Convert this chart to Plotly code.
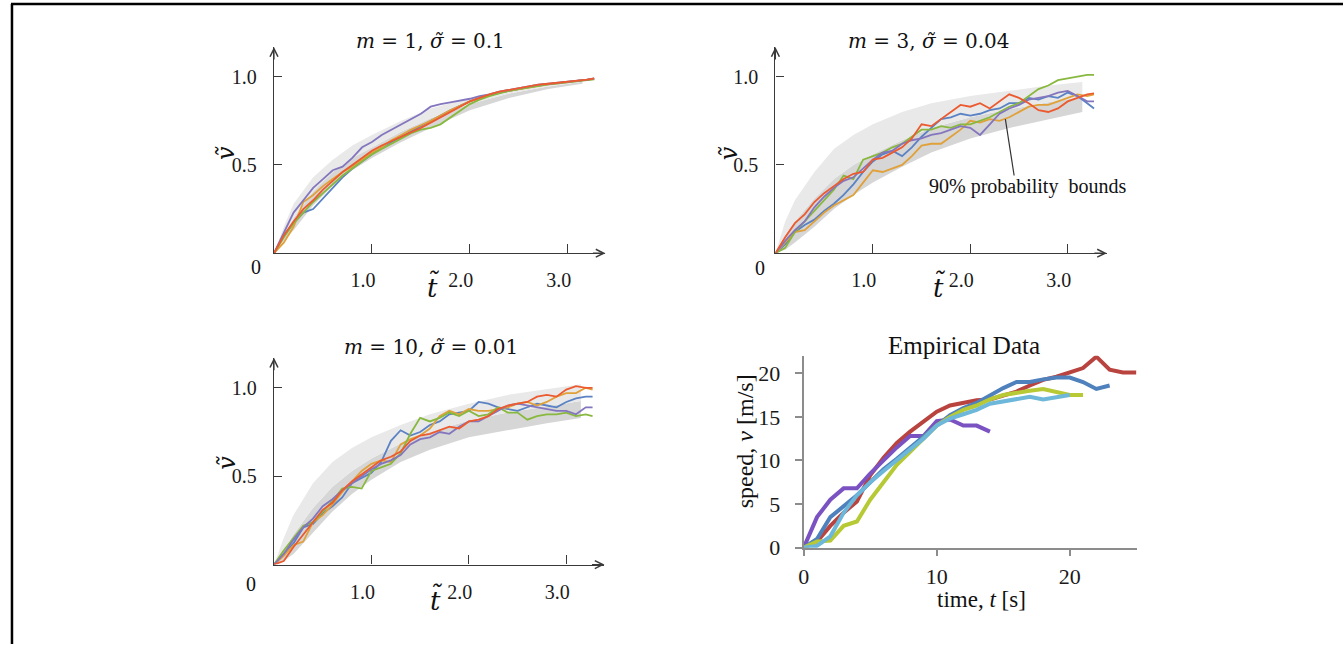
import plotly.graph_objects as go

W, H = 1343, 657

# ---------------- data ----------------
T_SIM = [0.0, 0.1, 0.2, 0.3, 0.4, 0.5, 0.6, 0.7, 0.8, 0.9, 1.0, 1.1, 1.2, 1.3, 1.4, 1.5, 1.6,
         1.7, 1.8, 1.9, 2.0, 2.1, 2.2, 2.3, 2.4, 2.5, 2.6, 2.7, 2.8, 2.9, 3.0, 3.1, 3.2, 3.27]
T_BAND = [0.0, 0.1, 0.2, 0.4, 0.6, 0.8, 1.0, 1.3, 1.6, 2.0, 2.4, 2.8, 3.15]

# panel 1: m = 1, sigma = 0.1
p1_blue = [0, .10, .17, .23, .25, .31, .37, .43, .48, .52, .56, .60, .63, .66, .69, .72, .75,
           .78, .81, .835, .86, .88, .895, .91, .92, .932, .942, .952, .958, .964, .97, .977, .982, .988]
p1_orange = [0, .06, .15, .29, .33, .38, .42, .46, .49, .53, .57, .60, .64, .67, .70, .725, .75,
             .78, .81, .835, .86, .88, .895, .91, .92, .93, .94, .95, .957, .963, .97, .976, .982, .988]
p1_green = [0, .09, .17, .23, .29, .34, .39, .44, .48, .52, .56, .59, .62, .65, .68, .70, .71,
            .73, .77, .81, .845, .87, .89, .905, .92, .93, .94, .95, .957, .963, .97, .975, .98, .985]
p1_purple = [0, .12, .23, .30, .37, .42, .47, .49, .54, .60, .63, .67, .70, .73, .76, .79, .83,
             .845, .855, .865, .875, .89, .90, .915, .925, .935, .945, .955, .96, .965, .972, .978, .983, .99]
p1_red = [0, .10, .18, .25, .30, .36, .41, .46, .50, .54, .58, .61, .635, .66, .685, .71, .74,
          .77, .80, .83, .86, .88, .90, .915, .925, .935, .945, .955, .96, .965, .972, .978, .983, .99]
p1_lower = [0, .07, .13, .27, .38, .47, .54, .63, .71, .81, .88, .93, .96]
p1_mid = [0, .10, .20, .35, .46, .54, .60, .69, .765, .845, .905, .945, .972]
p1_upper = [0, .15, .28, .43, .53, .61, .67, .75, .82, .88, .93, .96, .985]

# panel 2: m = 3, sigma = 0.04
p2_blue = [0, .05, .12, .16, .19, .24, .28, .33, .39, .46, .52, .56, .58, .55, .60, .66, .71,
           .76, .77, .79, .78, .79, .81, .82, .85, .85, .88, .87, .89, .88, .91, .89, .85, .82]
p2_orange = [0, .06, .12, .13, .18, .23, .27, .30, .33, .40, .47, .46, .48, .50, .55, .61, .62,
             .62, .66, .70, .75, .74, .76, .75, .77, .80, .83, .84, .84, .86, .88, .90, .89, .90]
p2_green = [0, .03, .12, .18, .24, .30, .36, .44, .42, .53, .55, .57, .60, .62, .66, .70, .70,
            .72, .71, .73, .73, .75, .77, .80, .83, .85, .89, .93, .95, .98, .99, 1.0, 1.01, 1.01]
p2_purple = [0, .07, .13, .18, .26, .32, .37, .41, .43, .48, .53, .57, .58, .62, .64, .65, .67,
             .68, .70, .72, .71, .67, .73, .79, .82, .84, .87, .88, .89, .91, .92, .89, .86, .86]
p2_red = [0, .09, .17, .22, .29, .34, .38, .42, .45, .46, .53, .54, .57, .60, .65, .73, .72,
          .76, .80, .84, .83, .85, .82, .86, .90, .88, .85, .81, .80, .82, .86, .88, .90, .905]
p2_lower = [0, .02, .06, .15, .25, .33, .40, .49, .57, .65, .71, .76, .80]
p2_mid = [0, .10, .18, .31, .42, .50, .56, .64, .71, .77, .815, .855, .885]
p2_upper = [0, .18, .30, .46, .59, .67, .73, .80, .85, .89, .92, .95, .97]

# panel 3: m = 10, sigma = 0.01
p3_blue = [0, .06, .12, .21, .23, .29, .33, .38, .46, .49, .52, .58, .70, .76, .73, .75, .79,
           .81, .85, .86, .87, .92, .91, .89, .88, .87, .89, .91, .90, .89, .92, .94, .95, .95]
p3_orange = [0, .05, .11, .13, .24, .28, .34, .41, .47, .53, .57, .59, .58, .68, .71, .73, .77,
             .84, .87, .85, .88, .87, .87, .88, .89, .91, .92, .90, .92, .95, .97, .97, 1.0, .99]
p3_green = [0, .08, .15, .22, .24, .30, .36, .43, .44, .43, .53, .55, .57, .63, .74, .83, .81,
            .83, .86, .84, .87, .84, .85, .89, .86, .86, .82, .84, .85, .85, .86, .84, .85, .84]
p3_purple = [0, .06, .14, .21, .26, .33, .37, .42, .46, .50, .54, .57, .59, .62, .68, .71, .72,
             .75, .74, .78, .81, .81, .84, .87, .90, .91, .90, .89, .88, .87, .87, .85, .89, .89]
p3_red = [0, .02, .10, .17, .24, .31, .35, .42, .47, .51, .55, .59, .61, .64, .70, .73, .74,
          .76, .78, .77, .81, .82, .84, .88, .90, .91, .92, .95, .96, .95, .99, 1.01, 1.0, 1.0]
p3_lower = [0, .02, .06, .18, .30, .40, .48, .58, .65, .72, .76, .80, .83]
p3_mid = [0, .08, .17, .32, .44, .53, .60, .685, .75, .815, .86, .895, .925]
p3_upper = [0, .15, .28, .46, .58, .66, .72, .79, .85, .91, .96, .99, 1.02]

# panel 4: empirical data (speed m/s vs time s)
emp_t = [0, 1, 2, 3, 4, 5, 6, 7, 8, 9, 10, 11, 12, 13, 14, 15, 16, 17, 18, 19, 20, 21, 22, 23, 24, 25]
emp_red = [0, 0.7, 2.5, 4.0, 5.3, 8.3, 10.3, 12.0, 13.3, 14.5, 15.6, 16.3, 16.6, 16.9, 17.0,
           17.4, 17.9, 18.6, 19.25, 19.6, 20.1, 20.6, 21.9, 20.4, 20.1, 20.1]
emp_blue = [0, 1.0, 3.5, 4.8, 6.0, 7.5, 9.0, 10.2, 11.5, 12.7, 14.0, 15.2, 16.0, 16.6, 17.5,
            18.3, 19.0, 19.0, 19.3, 19.5, 19.5, 19.0, 18.2, 18.6]
emp_purple = [0, 3.5, 5.5, 6.8, 6.8, 8.5, 10.0, 11.5, 12.8, 12.8, 14.5, 14.7, 14.0, 14.0, 13.3]
emp_green = [0, 0.7, 0.8, 2.5, 3.0, 5.5, 7.5, 9.5, 11.0, 12.5, 14.0, 15.0, 15.8, 16.3, 17.0,
             17.5, 17.8, 18.0, 18.2, 17.8, 17.5, 17.5]
emp_lightblue = [0, 0.2, 1.3, 4.0, 6.0, 7.5, 8.8, 10.0, 11.2, 12.5, 14.0, 14.8, 15.3, 15.8,
                 16.5, 16.8, 17.0, 17.3, 17.0, 17.3, 17.5]

SIM_COL = {"blue": "#5a82c4", "orange": "#e0a13a", "green": "#88b83e",
           "red": "#ec5a30", "purple": "#8476be"}
EMP_COL = {"red": "#b8433f", "purple": "#7b52c1", "blue": "#4f81bd",
           "green": "#b7c935", "lightblue": "#6cb7da"}
BAND_LIGHT = "#e9e9e9"
BAND_DARK = "#d6d6d6"

FONT = "Liberation Serif"
MATH = "DejaVu Serif"

fig = go.Figure()

panels = [
    ("x", "y", p1_lower, p1_mid, p1_upper,
     dict(blue=p1_blue, orange=p1_orange, green=p1_green, purple=p1_purple, red=p1_red)),
    ("x2", "y2", p2_lower, p2_mid, p2_upper,
     dict(blue=p2_blue, orange=p2_orange, green=p2_green, purple=p2_purple, red=p2_red)),
    ("x3", "y3", p3_lower, p3_mid, p3_upper,
     dict(blue=p3_blue, orange=p3_orange, green=p3_green, purple=p3_purple, red=p3_red)),
]

for xa, ya, lo, mid, up, series in panels:
    fig.add_trace(go.Scatter(x=T_BAND, y=lo, xaxis=xa, yaxis=ya, mode="lines",
                             line=dict(width=0, color=BAND_DARK), hoverinfo="skip", showlegend=False))
    fig.add_trace(go.Scatter(x=T_BAND, y=mid, xaxis=xa, yaxis=ya, mode="lines", fill="tonexty",
                             fillcolor=BAND_DARK, line=dict(width=0, color=BAND_DARK),
                             hoverinfo="skip", showlegend=False))
    fig.add_trace(go.Scatter(x=T_BAND, y=up, xaxis=xa, yaxis=ya, mode="lines", fill="tonexty",
                             fillcolor=BAND_LIGHT, line=dict(width=0, color=BAND_LIGHT),
                             hoverinfo="skip", showlegend=False))
    for name in ["blue", "orange", "green", "purple", "red"]:
        fig.add_trace(go.Scatter(x=T_SIM, y=series[name], xaxis=xa, yaxis=ya, mode="lines",
                                 line=dict(color=SIM_COL[name], width=1.8), showlegend=False))

for name, vals in [("red", emp_red), ("purple", emp_purple), ("blue", emp_blue),
                   ("green", emp_green), ("lightblue", emp_lightblue)]:
    fig.add_trace(go.Scatter(x=emp_t[:len(vals)], y=vals, xaxis="x4", yaxis="y4", mode="lines",
                             line=dict(color=EMP_COL[name], width=4), showlegend=False))


def dx(a, b):
    return [a / W, b / W]


def dy(top, bottom):
    return [1 - bottom / H, 1 - top / H]


AX_COL = "#3a3a3a"
tickfont = dict(family=FONT, size=20, color="#1a1a1a")

sim_x = dict(showline=True, linecolor=AX_COL, linewidth=1.3, ticks="inside", ticklen=9,
             tickcolor=AX_COL, tickwidth=1.3, tickvals=[1, 2, 3], ticktext=["1.0", "2.0", "3.0"],
             tickfont=tickfont, showgrid=False, zeroline=False, ticklabelstandoff=9,
             ticklabelshift=-9, fixedrange=True)
sim_y = dict(showline=True, linecolor=AX_COL, linewidth=1.3, ticks="inside", ticklen=8,
             tickcolor=AX_COL, tickwidth=1.3, tickvals=[0.5, 1.0], ticktext=["0.5", "1.0"],
             tickfont=tickfont, showgrid=False, zeroline=False, ticklabelstandoff=12,
             fixedrange=True)

fig.update_layout(
    width=W, height=H, margin=dict(l=0, r=0, t=0, b=0),
    paper_bgcolor="white", plot_bgcolor="rgba(0,0,0,0)", showlegend=False,
    xaxis=dict(sim_x, domain=dx(270, 602.7), range=[0, 3.385], anchor="y"),
    yaxis=dict(sim_y, domain=dy(48, 258.3), range=[0, 1.168], anchor="x"),
    xaxis2=dict(sim_x, domain=dx(773.3, 1106), range=[0, 3.402], anchor="y2"),
    yaxis2=dict(sim_y, domain=dy(48, 258.3), range=[0, 1.168], anchor="x2"),
    xaxis3=dict(sim_x, domain=dx(270, 601.7), range=[0, 3.392], anchor="y3"),
    yaxis3=dict(sim_y, domain=dy(365, 576), range=[0, 1.170], anchor="x3"),
    xaxis4=dict(domain=dx(801.7, 1136), range=[0, 25.04], anchor="y4", showline=True,
                linecolor="#8c8c8c", linewidth=2, ticks="outside", ticklen=6, tickcolor="#8c8c8c",
                tickwidth=1.5, tickvals=[0, 10, 20], tickfont=dict(family=FONT, size=22, color="#1a1a1a"),
                showgrid=False, zeroline=False, ticklabelstandoff=2, fixedrange=True),
    yaxis4=dict(domain=dy(363, 558.7), range=[0, 22], anchor="x4", showline=True,
                linecolor="#8c8c8c", linewidth=2, ticks="outside", ticklen=7, tickcolor="#8c8c8c",
                tickwidth=1.5, tickvals=[0, 5, 10, 15, 20], tickfont=dict(family=FONT, size=22, color="#1a1a1a"),
                showgrid=False, zeroline=False, ticklabelstandoff=10, fixedrange=True),
)

ann = []


def txt(x, y, s, size=20, angle=0, family=FONT):
    ann.append(dict(x=x / W, y=1 - y / H, xref="paper", yref="paper", text=s, showarrow=False,
                    textangle=angle, font=dict(family=family, size=size, color="#111"),
                    xanchor="center", yanchor="middle"))


# titles
txt(427, 42, "<i>m</i> = 1, <i>σ̃</i> = 0.1", 20, family=MATH)
txt(927, 42, "<i>m</i> = 3, <i>σ̃</i> = 0.04", 20, family=MATH)
txt(427.5, 354, "<i>m</i> = 10, <i>σ̃</i> = 0.01", 20, family=MATH)
txt(963, 352, "Empirical Data", 25)
# axis labels
for (x, y) in [(222, 156), (727, 156), (222, 472)]:
    txt(x, y, "<i>\u1e7d</i>", 24, -90, family=MATH)
for (x, y) in [(430, 292), (938, 292), (433, 612)]:
    txt(x, y, "<i>t\u0303</i>", 26, family=MATH)
for (x, y) in [(252, 272), (758, 273), (247, 596)]:
    txt(x, y, "0", 20)
txt(743, 450, "speed, <i>v</i> [m/s]", 24, -90)
txt(980, 612, "time, <i>t</i> [s]", 23)
txt(1026, 190, "90% probability\u00a0 bounds", 20)

# axis arrows
for xa, ya in [("x", "y"), ("x2", "y2"), ("x3", "y3")]:
    ann.append(dict(x=1, y=0, xref=xa + " domain", yref=ya + " domain", ax=-14, ay=0,
                    axref="pixel", ayref="pixel", text="", showarrow=True, arrowhead=5,
                    arrowsize=1.3, arrowwidth=1.2, arrowcolor=AX_COL, standoff=0))
    ann.append(dict(x=0, y=1, xref=xa + " domain", yref=ya + " domain", ax=0, ay=14,
                    axref="pixel", ayref="pixel", text="", showarrow=True, arrowhead=5,
                    arrowsize=1.3, arrowwidth=1.2, arrowcolor=AX_COL, standoff=0))

fig.update_layout(annotations=ann)

shapes = [
    # pointer to probability bounds
    dict(type="line", xref="x2", yref="y2", x0=2.36, y0=0.76, x1=2.45, y1=0.44,
         line=dict(color="#333", width=1.2)),
    # frame
    dict(type="line", xref="paper", yref="paper", x0=7 / W, x1=7 / W, y0=0, y1=1 - 4 / H,
         line=dict(color="black", width=2.5)),
    dict(type="line", xref="paper", yref="paper", x0=6 / W, x1=1, y0=1 - 4 / H, y1=1 - 4 / H,
         line=dict(color="black", width=2.5)),
]
fig.update_layout(shapes=shapes)

fig.write_html("out.html")
